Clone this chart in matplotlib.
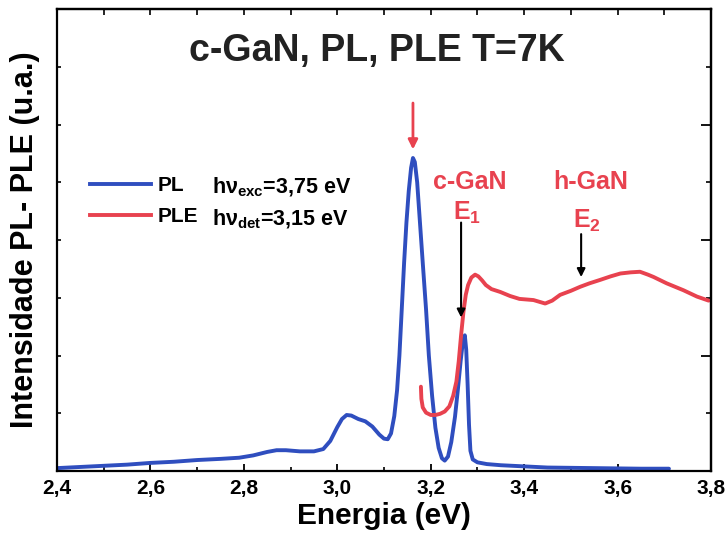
import matplotlib
matplotlib.use("Agg")
import matplotlib.pyplot as plt
from matplotlib.lines import Line2D
from matplotlib.ticker import FuncFormatter, MultipleLocator

plt.rcParams["font.family"] = ["Liberation Sans", "DejaVu Sans"]
plt.rcParams["font.weight"] = "bold"
plt.rcParams["mathtext.fontset"] = "custom"
plt.rcParams["mathtext.rm"] = "Liberation Sans:bold"
plt.rcParams["mathtext.it"] = "Liberation Sans:bold"
plt.rcParams["mathtext.bf"] = "Liberation Sans:bold"

BLUE = "#2f4ebf"
RED = "#e8424f"

# PL spectrum, excitation at 3,75 eV
pl_energy = [2.40, 2.45, 2.50, 2.55, 2.60, 2.65, 2.70, 2.75, 2.79, 2.82,
             2.85, 2.87, 2.89, 2.92, 2.95, 2.97, 2.985, 3.00, 3.01, 3.02,
             3.03, 3.045, 3.06, 3.075, 3.09, 3.10, 3.108, 3.115, 3.122, 3.128,
             3.133, 3.138, 3.143, 3.148, 3.153, 3.158, 3.162, 3.166, 3.171, 3.177,
             3.183, 3.190, 3.196, 3.203, 3.210, 3.217, 3.224, 3.230, 3.237, 3.244,
             3.252, 3.258, 3.264, 3.269, 3.273, 3.276, 3.279, 3.282, 3.285, 3.29,
             3.30, 3.32, 3.35, 3.40, 3.45, 3.55, 3.65, 3.71]
pl_intensity = [0.05, 0.07, 0.09, 0.11, 0.14, 0.16, 0.19, 0.21, 0.23, 0.27,
                0.33, 0.36, 0.36, 0.34, 0.34, 0.38, 0.52, 0.76, 0.90, 0.97,
                0.96, 0.90, 0.86, 0.77, 0.63, 0.56, 0.55, 0.65, 0.95, 1.40,
                2.00, 2.80, 3.60, 4.30, 4.85, 5.25, 5.42, 5.35, 5.00, 4.30,
                3.60, 2.80, 2.00, 1.30, 0.75, 0.40, 0.22, 0.18, 0.25, 0.50,
                0.94, 1.40, 1.90, 2.25, 2.35, 2.10, 1.50, 0.80, 0.35, 0.20,
                0.15, 0.12, 0.10, 0.08, 0.06, 0.05, 0.04, 0.04]

# PLE spectrum, detection at 3,15 eV
ple_energy = [3.179, 3.180, 3.183, 3.190, 3.200, 3.210, 3.220, 3.230, 3.240, 3.248,
              3.255, 3.260, 3.265, 3.270, 3.275, 3.280, 3.287, 3.295, 3.302, 3.310,
              3.318, 3.330, 3.349, 3.370, 3.390, 3.420, 3.445, 3.460, 3.477, 3.500,
              3.520, 3.540, 3.563, 3.585, 3.606, 3.628, 3.648, 3.665, 3.677, 3.705,
              3.741, 3.770, 3.795]
ple_intensity = [1.46, 1.25, 1.10, 1.01, 0.97, 0.97, 0.99, 1.03, 1.12, 1.30,
                 1.55, 1.90, 2.35, 2.75, 3.05, 3.22, 3.35, 3.40, 3.37, 3.30,
                 3.22, 3.15, 3.10, 3.03, 2.98, 2.96, 2.90, 2.95, 3.05, 3.12,
                 3.19, 3.25, 3.31, 3.37, 3.42, 3.44, 3.45, 3.40, 3.36, 3.25,
                 3.13, 3.02, 2.95]

xticks = [2.4, 2.6, 2.8, 3.0, 3.2, 3.4, 3.6, 3.8]

fig = plt.figure(figsize=(7.27, 5.41), dpi=100)
ax = fig.add_axes([57 / 727, 1 - 471 / 541, 654 / 727, 462 / 541])

ax.plot(pl_energy, pl_intensity, color=BLUE, lw=2.8,
        solid_joinstyle="round", solid_capstyle="round")
ax.plot(ple_energy, ple_intensity, color=RED, lw=2.8,
        solid_joinstyle="round", solid_capstyle="round")

ax.set_xlim(2.4, 3.8)
ax.set_ylim(0, 8)

# bottom axis: labelled majors every 0,2 eV, minors every 0,1
ax.set_xticks(xticks)
ax.xaxis.set_major_formatter(FuncFormatter(lambda v, _: f"{v:.1f}".replace(".", ",")))
ax.xaxis.set_minor_locator(MultipleLocator(0.1))
ax.yaxis.set_major_locator(MultipleLocator(1))
ax.tick_params(axis="x", which="major", direction="in", length=5, width=1.3,
               labelsize=15, pad=6)
ax.tick_params(axis="x", which="minor", direction="in", length=3, width=1.2)
ax.tick_params(axis="y", which="major", direction="in", length=3, width=1.2,
               labelleft=False)
for lbl in ax.get_xticklabels():
    lbl.set_fontweight("bold")

top = ax.secondary_xaxis("top")
top.set_xticks([2.4 + 0.1 * i for i in range(1, 14)])
top.tick_params(direction="in", length=4, width=1.2, labeltop=False)

right = ax.secondary_yaxis("right")
right.yaxis.set_major_locator(MultipleLocator(2))
right.yaxis.set_minor_locator(MultipleLocator(1))
right.tick_params(which="major", direction="in", length=7, width=1.3, labelright=False)
right.tick_params(which="minor", direction="in", length=3.5, width=1.2)

for sp in list(ax.spines.values()) + [top.spines["top"], right.spines["right"]]:
    sp.set_linewidth(1.6)

ax.set_xlabel("Energia (eV)", fontsize=21.5, fontweight="bold", labelpad=3)
ax.set_ylabel("Intensidade PL- PLE (u.a.)", fontsize=22, fontweight="bold",
              labelpad=12)

ax.text(0.489, 0.91, "c-GaN, PL, PLE T=7K", transform=ax.transAxes,
        ha="center", va="center", fontsize=27, fontweight="bold", color="#222222")

# legend plus excitation / detection energies
handles = [Line2D([], [], color=BLUE, lw=2.8), Line2D([], [], color=RED, lw=2.8)]
ax.legend(handles, ["PL", "PLE"], loc="center left", bbox_to_anchor=(0.0505, 0.584),
          frameon=False, handlelength=2.95, handletextpad=0.3, borderpad=0,
          borderaxespad=0, labelspacing=0.55, prop={"size": 15, "weight": "bold"})
ax.text(2.732, 4.81, r"h$\nu_{exc}$=3,75 eV", fontsize=15.5, fontweight="bold", va="baseline")
ax.text(2.732, 4.26, r"h$\nu_{det}$=3,15 eV", fontsize=15.5, fontweight="bold", va="baseline")

# band-gap markers
ax.annotate("", xy=(3.162, 5.52), xytext=(3.162, 6.42),
            arrowprops=dict(arrowstyle="-|>", color=RED, lw=2, mutation_scale=14))
ax.annotate("", xy=(3.265, 2.61), xytext=(3.265, 4.35),
            arrowprops=dict(arrowstyle="-|>", color="black", lw=1.5, mutation_scale=12))
ax.annotate("", xy=(3.522, 3.31), xytext=(3.522, 4.15),
            arrowprops=dict(arrowstyle="-|>", color="black", lw=1.5, mutation_scale=12))

ax.text(3.284, 5.0, "c-GaN", color=RED, fontsize=18, fontweight="bold",
        ha="center", va="center")
ax.text(3.278, 4.35, r"E$_1$", color=RED, fontsize=18, fontweight="bold",
        ha="center", va="baseline")
ax.text(3.543, 5.0, "h-GaN", color=RED, fontsize=18, fontweight="bold",
        ha="center", va="center")
ax.text(3.535, 4.21, r"E$_2$", color=RED, fontsize=18, fontweight="bold",
        ha="center", va="baseline")

fig.savefig("out.png", dpi=100)
